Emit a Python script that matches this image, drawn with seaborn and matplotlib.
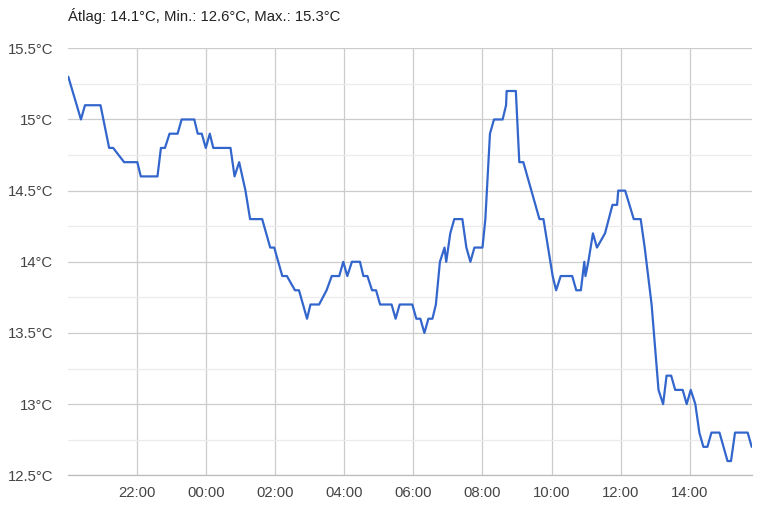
import pandas as pd
import matplotlib
matplotlib.use("Agg")
import matplotlib.pyplot as plt
import matplotlib.dates as mdates
import seaborn as sns
from matplotlib.ticker import MultipleLocator, FuncFormatter

# temperature readings, evening of day 1 to afternoon of day 2
times = ["20:00", "20:22", "20:29", "20:56", "21:11", "21:18", "21:37", "22:00", "22:06", "22:35",
         "22:41", "22:48", "22:56", "23:10", "23:17", "23:39", "23:45", "23:52", "23:59", "00:06",
         "00:12", "00:42", "00:49", "00:57", "01:08", "01:16", "01:37", "01:51", "01:58", "02:12",
         "02:20", "02:34", "02:41", "02:55", "03:01", "03:16", "03:29", "03:38", "03:51", "03:58",
         "04:05", "04:13", "04:27", "04:33", "04:40", "04:48", "04:55", "05:02", "05:22", "05:29",
         "05:36", "05:58", "06:05", "06:12", "06:19", "06:26", "06:33", "06:39", "06:46", "06:54",
         "06:57", "07:04", "07:11", "07:25", "07:32", "07:39", "07:46", "08:00", "08:05", "08:13",
         "08:20", "08:35", "08:41", "08:42", "08:58", "09:04", "09:11", "09:39", "09:46", "10:02",
         "10:08", "10:16", "10:36", "10:43", "10:51", "10:57", "10:59", "11:04", "11:12", "11:19",
         "11:33", "11:46", "11:54", "11:56", "12:08", "12:23", "12:35", "12:42", "12:54", "13:00",
         "13:06", "13:14", "13:20", "13:28", "13:35", "13:48", "13:55", "14:02", "14:10", "14:17",
         "14:24", "14:31", "14:38", "14:52", "15:06", "15:12", "15:19", "15:41", "15:48"]
temps = [15.3, 15.0, 15.1, 15.1, 14.8, 14.8, 14.7, 14.7, 14.6, 14.6,
         14.8, 14.8, 14.9, 14.9, 15.0, 15.0, 14.9, 14.9, 14.8, 14.9,
         14.8, 14.8, 14.6, 14.7, 14.5, 14.3, 14.3, 14.1, 14.1, 13.9,
         13.9, 13.8, 13.8, 13.6, 13.7, 13.7, 13.8, 13.9, 13.9, 14.0,
         13.9, 14.0, 14.0, 13.9, 13.9, 13.8, 13.8, 13.7, 13.7, 13.6,
         13.7, 13.7, 13.6, 13.6, 13.5, 13.6, 13.6, 13.7, 14.0, 14.1,
         14.0, 14.2, 14.3, 14.3, 14.1, 14.0, 14.1, 14.1, 14.3, 14.9,
         15.0, 15.0, 15.1, 15.2, 15.2, 14.7, 14.7, 14.3, 14.3, 13.9,
         13.8, 13.9, 13.9, 13.8, 13.8, 14.0, 13.9, 14.0, 14.2, 14.1,
         14.2, 14.4, 14.4, 14.5, 14.5, 14.3, 14.3, 14.1, 13.7, 13.4,
         13.1, 13.0, 13.2, 13.2, 13.1, 13.1, 13.0, 13.1, 13.0, 12.8,
         12.7, 12.7, 12.8, 12.8, 12.6, 12.6, 12.8, 12.8, 12.7]
title = "Átlag: 14.1°C, Min.: 12.6°C, Max.: 15.3°C"

# build real timestamps (hours before 20:00 belong to the next day)
stamps = pd.to_datetime(["2024-01-01 " + t for t in times])
stamps = [s + pd.Timedelta(days=1) if s.hour < 20 else s for s in stamps]
df = pd.DataFrame({"time": stamps, "temp": temps})

sns.set_style("white")
plt.rcParams['font.family'] = ['Liberation Sans', 'DejaVu Sans']
FS = 10.7

fig = plt.figure(figsize=(7.62, 5.14), dpi=100)
ax = fig.add_axes([68.3 / 762, 1 - 475.3 / 514, (751.7 - 68.3) / 762, (475.3 - 48.3) / 514])

sns.lineplot(data=df, x="time", y="temp", ax=ax, color="#3366cc", linewidth=1.6)

ax.set_ylim(12.5, 15.5)
ax.set_xlim(pd.Timestamp("2024-01-01 20:00"), pd.Timestamp("2024-01-02 15:48"))

ax.yaxis.set_major_locator(MultipleLocator(0.5))
ax.yaxis.set_minor_locator(MultipleLocator(0.25))
ax.yaxis.set_major_formatter(FuncFormatter(lambda v, p: f"{v:g}°C"))
# even hours labelled (the 20:00 left edge has no label), odd hours get small ticks
ax.set_xticks(pd.date_range("2024-01-01 22:00", "2024-01-02 14:00", freq="2h"))
ax.set_xticks(pd.date_range("2024-01-01 21:00", "2024-01-02 15:00", freq="2h"), minor=True)
ax.xaxis.set_major_formatter(mdates.DateFormatter("%H:%M"))

ax.grid(which="major", axis="both", color="#cccccc", linewidth=0.9)
ax.grid(which="minor", axis="y", color="#ebebeb", linewidth=0.9)
ax.set_axisbelow(True)

ax.tick_params(axis="y", which="both", length=0, pad=11, labelsize=FS, labelcolor="#444444")
ax.tick_params(axis="x", which="major", length=0, pad=8, labelsize=FS, labelcolor="#444444")
ax.tick_params(axis="x", which="minor", direction="in", length=4, width=0.9, color="#cccccc")

for side in ["top", "right", "left"]:
    ax.spines[side].set_visible(False)
ax.spines["bottom"].set_color("#bbbbbb")
ax.spines["bottom"].set_linewidth(0.9)

ax.set_xlabel("")
ax.set_ylabel("")

fig.text(68 / 762, 1 - 16 / 514, title, ha="left", va="center", fontsize=FS, color="#222222")

fig.savefig("out.png", dpi=100)
